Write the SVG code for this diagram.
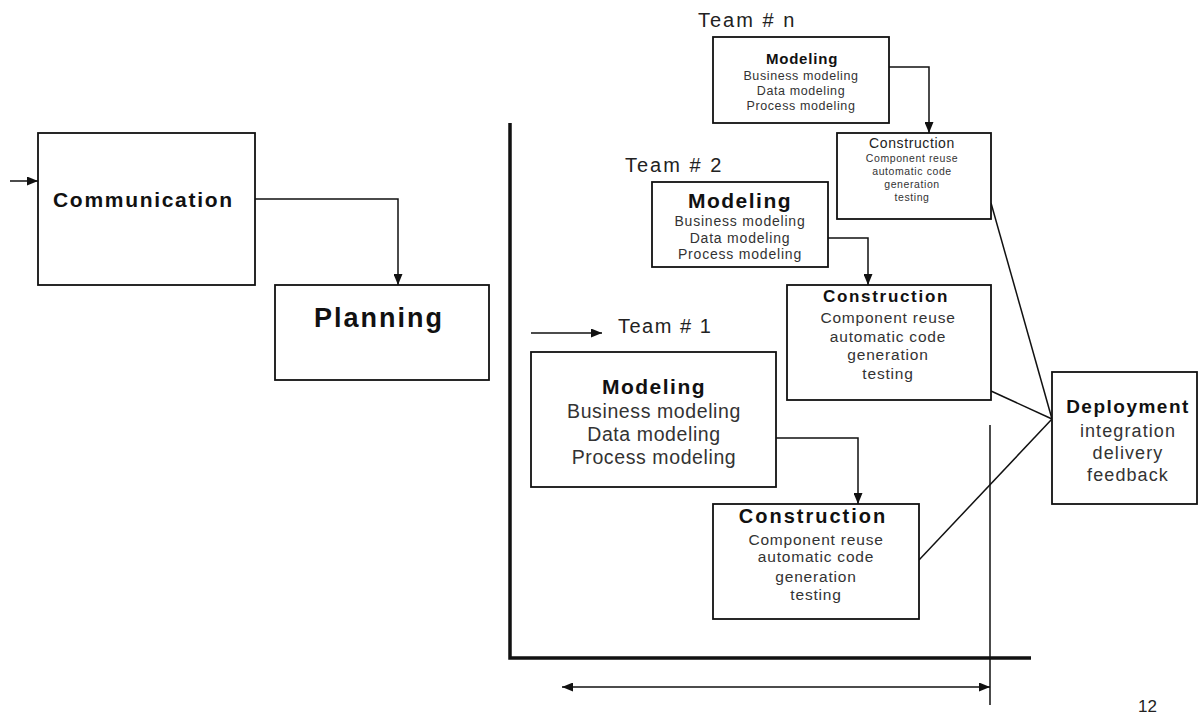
<svg xmlns="http://www.w3.org/2000/svg" width="1199" height="715" viewBox="0 0 1199 715">
<style>
.box{fill:#fff;stroke:#111;stroke-width:1.8}
.c{fill:none;stroke:#111;stroke-width:1.5}
.ax{fill:none;stroke:#111;stroke-width:3.5}
text{font-family:"Liberation Sans",Arial,sans-serif;fill:#222}
.b{font-weight:bold;fill:#111}
.s{fill:#333}
.m{text-anchor:middle}
</style>
<defs>
<marker id="ah" markerUnits="userSpaceOnUse" markerWidth="11" markerHeight="9" refX="11" refY="4.5" orient="auto-start-reverse">
<path d="M0,0 L11,4.5 L0,9 z" fill="#111"/>
</marker>
</defs>
<rect width="1199" height="715" fill="#fff"/>
<g id="axes">
<path class="ax" d="M510,123 V658 H1031"/>
<path class="c" d="M990,425 V705"/>
</g>
<g id="connectors">
<path class="c" d="M10,181 H38" marker-end="url(#ah)"/>
<path class="c" d="M255,199 H398 V285" marker-end="url(#ah)"/>
<path class="c" d="M889,67 H929 V133" marker-end="url(#ah)"/>
<path class="c" d="M828,238 H868 V285" marker-end="url(#ah)"/>
<path class="c" d="M776,438 H858 V504" marker-end="url(#ah)"/>
<path class="c" d="M531,333 H602" marker-end="url(#ah)"/>
<path class="c" d="M562,687 H990" marker-start="url(#ah)" marker-end="url(#ah)"/>
<path class="c" d="M991,203 L1052,419"/>
<path class="c" d="M991,391 L1052,419"/>
<path class="c" d="M919,560 L1052,419"/>
</g>
<g id="communication">
<rect class="box" x="38" y="133" width="217" height="152"/>
<text class="b" x="53" y="207" font-size="21" letter-spacing="1.7">Communication</text>
</g>
<g id="planning">
<rect class="box" x="275" y="285" width="214" height="95"/>
<text class="b" x="314" y="327" font-size="27" letter-spacing="2">Planning</text>
</g>
<g id="team-n">
<text x="698" y="27" font-size="20" letter-spacing="2">Team # n</text>
</g>
<g id="modeling-n">
<rect class="box" x="713" y="37" width="176" height="86"/>
<text class="b m" x="802" y="64" font-size="15" letter-spacing="0.8">Modeling</text>
<text class="s m" x="801" y="80" font-size="12.5" letter-spacing="0.6">Business modeling</text>
<text class="s m" x="801" y="95" font-size="12.5" letter-spacing="0.6">Data modeling</text>
<text class="s m" x="801" y="110" font-size="12.5" letter-spacing="0.6">Process modeling</text>
</g>
<g id="construction-n">
<rect class="box" x="837" y="133" width="154" height="86"/>
<text class="m" x="912" y="148" font-size="14" letter-spacing="0.6">Construction</text>
<text class="s m" x="912" y="162" font-size="10.5" letter-spacing="0.6">Component reuse</text>
<text class="s m" x="912" y="175" font-size="10.5" letter-spacing="0.6">automatic code</text>
<text class="s m" x="912" y="188" font-size="10.5" letter-spacing="0.6">generation</text>
<text class="s m" x="912" y="201" font-size="10.5" letter-spacing="0.6">testing</text>
</g>
<g id="team-2">
<text x="625" y="172" font-size="20" letter-spacing="2">Team # 2</text>
</g>
<g id="modeling-2">
<rect class="box" x="652" y="182" width="176" height="85"/>
<text class="b m" x="740" y="208" font-size="21" letter-spacing="1.5">Modeling</text>
<text class="s m" x="740" y="226" font-size="14" letter-spacing="0.8">Business modeling</text>
<text class="s m" x="740" y="243" font-size="14" letter-spacing="0.8">Data modeling</text>
<text class="s m" x="740" y="259" font-size="14" letter-spacing="0.8">Process modeling</text>
</g>
<g id="construction-2">
<rect class="box" x="787" y="285" width="204" height="115"/>
<text class="b m" x="886" y="302" font-size="17" letter-spacing="1.7">Construction</text>
<text class="s m" x="888" y="323" font-size="15.5" letter-spacing="0.8">Component reuse</text>
<text class="s m" x="888" y="342" font-size="15.5" letter-spacing="0.8">automatic code</text>
<text class="s m" x="888" y="360" font-size="15.5" letter-spacing="0.8">generation</text>
<text class="s m" x="888" y="379" font-size="15.5" letter-spacing="0.8">testing</text>
</g>
<g id="team-1">
<text x="618" y="333" font-size="20" letter-spacing="1.5">Team # 1</text>
</g>
<g id="modeling-1">
<rect class="box" x="531" y="352" width="245" height="135"/>
<text class="b m" x="654" y="394" font-size="21" letter-spacing="1.5">Modeling</text>
<text class="s m" x="654" y="418" font-size="19.5" letter-spacing="0.6">Business modeling</text>
<text class="s m" x="654" y="441" font-size="19.5" letter-spacing="0.6">Data modeling</text>
<text class="s m" x="654" y="464" font-size="19.5" letter-spacing="0.6">Process modeling</text>
</g>
<g id="construction-1">
<rect class="box" x="713" y="504" width="206" height="115"/>
<text class="b m" x="813" y="523" font-size="20" letter-spacing="2">Construction</text>
<text class="s m" x="816" y="545" font-size="15.5" letter-spacing="0.8">Component reuse</text>
<text class="s m" x="816" y="562" font-size="15.5" letter-spacing="0.8">automatic code</text>
<text class="s m" x="816" y="582" font-size="15.5" letter-spacing="0.8">generation</text>
<text class="s m" x="816" y="600" font-size="15.5" letter-spacing="0.8">testing</text>
</g>
<g id="deployment">
<rect class="box" x="1052" y="372" width="145" height="132"/>
<text class="b m" x="1128" y="413" font-size="19" letter-spacing="1.5">Deployment</text>
<text class="s m" x="1128" y="437" font-size="18" letter-spacing="1.1">integration</text>
<text class="s m" x="1128" y="459" font-size="18" letter-spacing="1.1">delivery</text>
<text class="s m" x="1128" y="481" font-size="18" letter-spacing="1.1">feedback</text>
</g>
<g id="page-number">
<text x="1138" y="712" font-size="17">12</text>
</g>
</svg>
